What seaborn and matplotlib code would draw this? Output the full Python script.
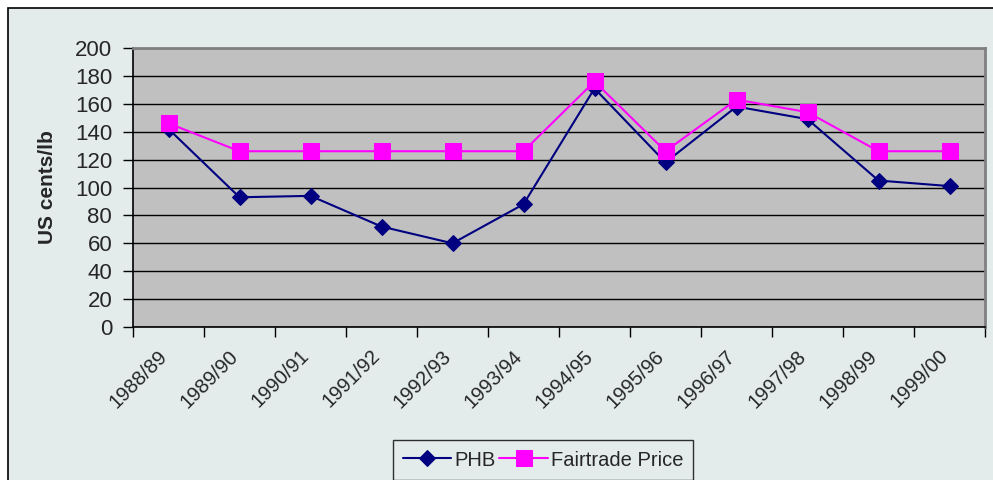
import matplotlib
matplotlib.use("Agg")
import matplotlib.pyplot as plt
import matplotlib.patches as mpatches
import matplotlib.transforms as mtransforms
import seaborn as sns
import pandas as pd
import numpy as np

# Data
seasons = ['1988/89', '1989/90', '1990/91', '1991/92', '1992/93', '1993/94',
           '1994/95', '1995/96', '1996/97', '1997/98', '1998/99', '1999/00']
phb = [142, 93, 94, 72, 60, 88, 171, 118, 158, 149, 105, 101]
fairtrade = [146, 126, 126, 126, 126, 126, 176, 126, 163, 154, 126, 126]

df = pd.DataFrame({'pos': np.arange(len(seasons)), 'PHB': phb, 'Fairtrade Price': fairtrade})

sns.set_style("white")
plt.rcParams['font.family'] = ['Liberation Sans', 'DejaVu Sans']

fig = plt.figure(figsize=(9.93, 4.8), dpi=100)
fig.patch.set_facecolor('white')
# chart area panel with border
fig.patches.append(mpatches.Rectangle((8 / 993, -0.02), 1.02, (480 - 8) / 480 + 0.02,
                                      transform=fig.transFigure, facecolor='#E3ECEB',
                                      edgecolor='black', linewidth=1.2, zorder=-5))

ax = fig.add_axes([133 / 993, (480 - 327) / 480, (985 - 133) / 993, (327 - 48) / 480])
ax.set_facecolor('#C0C0C0')

sns.lineplot(data=df, x='pos', y='PHB', ax=ax, color='#000080', marker='D',
             markersize=8, markeredgecolor='#000080', linewidth=1.5, label='PHB', zorder=3)
sns.lineplot(data=df, x='pos', y='Fairtrade Price', ax=ax, color='#FF00FF', marker='s',
             markersize=11, markeredgecolor='#FF00FF', linewidth=1.5, label='Fairtrade Price', zorder=4)

ax.set_xlim(-0.5, len(seasons) - 0.5)
ax.set_ylim(0, 200)
ax.set_yticks(np.arange(0, 201, 20))
ax.yaxis.grid(True, color='black', linewidth=1)
ax.set_axisbelow(True)

# ticks at category boundaries, labels centered
ax.set_xticks(np.arange(-0.5, len(seasons)), minor=False)
ax.set_xticklabels([])
ax.set_xticks(np.arange(len(seasons)), minor=True)
ax.set_xticklabels(seasons, minor=True, rotation=45, ha='right', va='top',
                   rotation_mode='anchor', fontsize=14.5)
ax.tick_params(axis='x', which='minor', length=0, pad=14)
ax.tick_params(axis='x', which='major', length=7, width=1, color='black', direction='out')
ax.tick_params(axis='y', length=7, width=1, color='black', direction='out', labelsize=16, pad=8)
ax.tick_params(bottom=True, left=True, which='both')

shift = mtransforms.ScaledTranslation(-8 / 72, 0, fig.dpi_scale_trans)
for lbl in ax.get_xticklabels(minor=True):
    lbl.set_transform(lbl.get_transform() + shift)

for side in ['left', 'bottom']:
    ax.spines[side].set_color('black')
    ax.spines[side].set_linewidth(1.2)
for side in ['top', 'right']:
    ax.spines[side].set_color('#808080')
    ax.spines[side].set_linewidth(2)

ax.set_xlabel('')
ax.set_ylabel('US cents/lb', fontsize=15, fontweight='bold', labelpad=13)

leg = ax.legend(loc='center', bbox_to_anchor=(543 / 993, 20 / 480),
                bbox_transform=fig.transFigure, ncol=2, frameon=True, fancybox=False,
                edgecolor='black', fontsize=14.5, handlelength=2.4, columnspacing=0.2,
                handletextpad=0.15, borderpad=0.5)
leg.get_frame().set_facecolor('#E3ECEB')
leg.get_frame().set_linewidth(1)

fig.savefig('out.png', dpi=100, facecolor=fig.get_facecolor())
